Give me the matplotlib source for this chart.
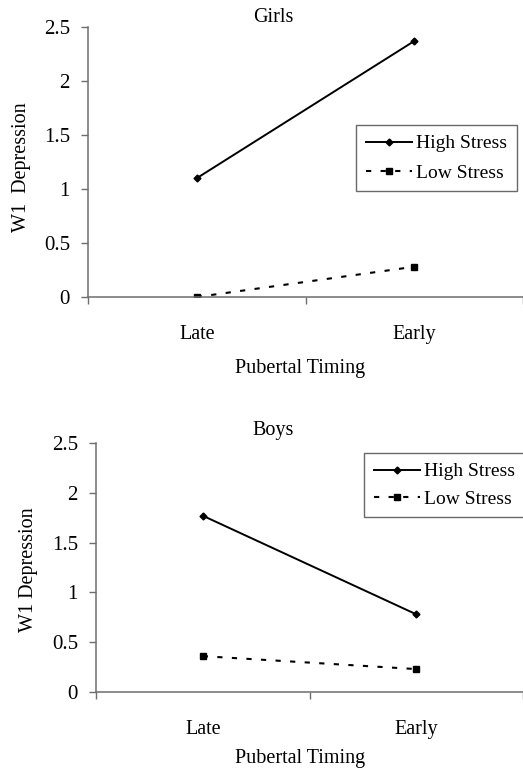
import matplotlib.pyplot as plt

plt.rcParams['font.family'] = ['Liberation Serif', 'DejaVu Serif']

# data
timing = ["Late", "Early"]
girls_high = [1.10, 2.37]
girls_low = [0.00, 0.28]
boys_high = [1.77, 0.78]
boys_low = [0.36, 0.23]

W, H = 523, 775
fig = plt.figure(figsize=(W / 100, H / 100), dpi=100)
axis_grey = '#6e6e6e'


def panel(left, top, bottom, high, low, title, ylabel, title_xy, ylab_xy, leg_xy, xlab_y, lspace):
    ax = fig.add_axes([left / W, 1 - bottom / H, 1 - left / W, (bottom - top) / H])
    x = range(len(timing))
    ax.plot(x, high, color='black', lw=1.4, marker='D', ms=3.5, label='High Stress')
    ax.plot(x, low, color='black', lw=1.5, ls=(0, (2.5, 4.5)), marker='s', ms=5, label='Low Stress')
    ax.set_xlim(-0.5, 1.468)
    ax.set_ylim(0, 2.5)
    ax.set_yticks([0, 0.5, 1, 1.5, 2, 2.5])
    ax.set_yticklabels(['0', '0.5', '1', '1.5', '2', '2.5'])
    ax.set_xticks([-0.5, 0.5, 1.5])
    ax.set_xticklabels([])
    ax.set_xticks([0, 1], minor=True)
    ax.set_xticklabels(timing, minor=True)
    ax.tick_params(axis='x', which='major', length=5, width=1, color=axis_grey)
    ax.tick_params(axis='x', which='minor', length=0, pad=20, labelsize=14.5)
    ax.tick_params(axis='y', length=5, width=1, color=axis_grey, labelsize=15, pad=8)
    for s in ['top', 'right']:
        ax.spines[s].set_visible(False)
    for s in ['left', 'bottom']:
        ax.spines[s].set_color(axis_grey)
        ax.spines[s].set_linewidth(1.1)
    fig.text(title_xy[0] / W, 1 - title_xy[1] / H, title, ha='center', va='center', fontsize=14.5)
    fig.text(ylab_xy[0] / W, 1 - ylab_xy[1] / H, ylabel, ha='center', va='center',
             rotation=90, fontsize=14.5)
    fig.text(300 / W, 1 - xlab_y / H, 'Pubertal Timing', ha='center', va='center', fontsize=14.5)
    leg = ax.legend(loc='upper left', bbox_to_anchor=(leg_xy[0] / W, 1 - leg_xy[1] / H),
                    bbox_transform=fig.transFigure, borderaxespad=0, fancybox=False,
                    fontsize=14, handlelength=2.4, handletextpad=0.2, borderpad=0.5,
                    labelspacing=lspace, frameon=True)
    leg.get_frame().set_edgecolor('#444444')
    leg.get_frame().set_linewidth(1)
    return ax


panel(88, 27, 297, girls_high, girls_low, 'Girls', 'W1  Depression',
      (273, 17), (22, 167), (356, 125), 368, 0.6)
panel(96, 443, 692, boys_high, boys_low, 'Boys', 'W1 Depression',
      (273, 431), (28, 570), (364, 453), 758, 0.5)

fig.savefig('out.png', dpi=100)
